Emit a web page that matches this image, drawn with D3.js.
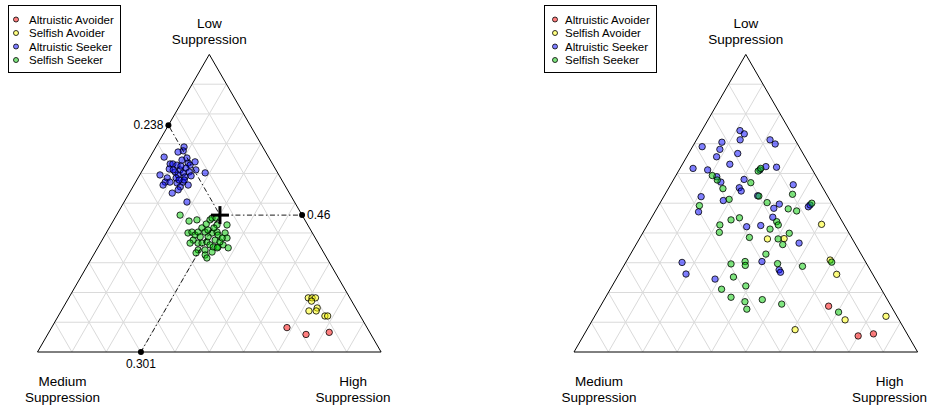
<!DOCTYPE html>
<html lang="en">
<head>
<meta charset="UTF-8">
<title>Ternary plots</title>
<style>
  body { margin: 0; background: #fff; }
  svg { display: block; font-family: "Liberation Sans", Arial, Helvetica, sans-serif; }
</style>
</head>
<body>
<script src="https://d3js.org/d3.v7.min.js"></script>
<script>
// legend groups and their fill colours (drawn half transparent)
let groupNames = ["Altruistic Avoider", "Selfish Avoider", "Altruistic Seeker", "Selfish Seeker"];
let groupFills = ["#ff0000", "#ffff00", "#0000ff", "#00cd00"];

// every point is [low, medium, high] suppression
let leftAltAvoider = [[0.082,0.233,0.685],[0.059,0.189,0.752],[0.066,0.118,0.816]];
let leftSelAvoider = [[0.182,0.121,0.697],[0.182,0.110,0.708],[0.182,0.100,0.718],[0.171,0.117,0.712],
  [0.138,0.141,0.721],[0.148,0.112,0.740],[0.138,0.120,0.742],[0.121,0.103,0.776],[0.121,0.095,0.784]];
let leftAltSeeker = [[0.689,0.229,0.082],[0.676,0.238,0.086],[0.672,0.255,0.073],[0.655,0.304,0.041],
  [0.632,0.298,0.070],[0.632,0.290,0.078],[0.628,0.280,0.092],[0.635,0.244,0.121],[0.628,0.242,0.130],
  [0.639,0.222,0.139],[0.612,0.233,0.155],[0.602,0.211,0.187],[0.595,0.346,0.059],[0.585,0.330,0.085],
  [0.571,0.343,0.086],[0.561,0.354,0.085],[0.568,0.310,0.122],[0.555,0.307,0.138],[0.545,0.318,0.137],
  [0.534,0.341,0.125],[0.571,0.291,0.138],[0.504,0.313,0.183],[0.615,0.309,0.076],[0.571,0.329,0.100],
  [0.612,0.279,0.109],[0.602,0.275,0.123],[0.618,0.259,0.123],[0.595,0.293,0.112],[0.588,0.277,0.135],
  [0.605,0.256,0.139],[0.625,0.270,0.105],[0.605,0.297,0.098],[0.578,0.284,0.138],[0.592,0.257,0.151],
  [0.585,0.304,0.111],[0.645,0.257,0.098],[0.652,0.239,0.109],[0.612,0.299,0.089],[0.578,0.299,0.123],
  [0.561,0.281,0.158]];
let leftSelSeeker = [[0.460,0.355,0.185],[0.440,0.339,0.221],[0.444,0.314,0.242],[0.444,0.276,0.280],
  [0.450,0.267,0.283],[0.450,0.255,0.295],[0.427,0.264,0.309],[0.427,0.235,0.338],[0.400,0.362,0.238],
  [0.403,0.349,0.248],[0.393,0.345,0.262],[0.403,0.331,0.266],[0.417,0.313,0.270],[0.403,0.311,0.286],
  [0.410,0.299,0.291],[0.400,0.292,0.308],[0.403,0.276,0.321],[0.393,0.278,0.329],[0.400,0.254,0.346],
  [0.383,0.257,0.360],[0.366,0.350,0.284],[0.366,0.338,0.296],[0.370,0.322,0.308],[0.360,0.318,0.322],
  [0.353,0.312,0.335],[0.353,0.298,0.349],[0.360,0.280,0.360],[0.350,0.270,0.380],[0.343,0.361,0.296],
  [0.343,0.341,0.316],[0.336,0.324,0.340],[0.350,0.302,0.348],[0.326,0.349,0.325],[0.316,0.349,0.335],
  [0.376,0.359,0.265],[0.366,0.373,0.261],[0.376,0.295,0.329],[0.370,0.284,0.346],[0.387,0.333,0.280],
  [0.387,0.310,0.303],[0.333,0.372,0.295],[0.383,0.271,0.346],[0.417,0.278,0.305],[0.430,0.294,0.276]];

let rightAltAvoider = [[0.154,0.182,0.664],[0.054,0.146,0.800],[0.061,0.098,0.841]];
let rightSelAvoider = [[0.429,0.065,0.506],[0.380,0.247,0.373],[0.381,0.198,0.421],[0.309,0.100,0.591],
  [0.261,0.105,0.634],[0.108,0.157,0.735],[0.120,0.032,0.848],[0.075,0.319,0.606]];
let rightAltSeeker = [[0.744,0.145,0.111],[0.733,0.138,0.129],[0.713,0.160,0.127],[0.690,0.282,0.028],
  [0.705,0.217,0.078],[0.681,0.235,0.084],[0.656,0.257,0.087],[0.667,0.190,0.143],[0.713,0.073,0.214],
  [0.699,0.065,0.236],[0.631,0.231,0.138],[0.617,0.345,0.038],[0.612,0.305,0.083],[0.589,0.290,0.121],
  [0.571,0.287,0.142],[0.580,0.215,0.205],[0.552,0.243,0.205],[0.541,0.243,0.216],[0.623,0.130,0.247],
  [0.621,0.100,0.279],[0.562,0.081,0.357],[0.525,0.203,0.272],[0.522,0.369,0.109],[0.509,0.311,0.180],
  [0.471,0.402,0.127],[0.497,0.154,0.349],[0.483,0.177,0.340],[0.488,0.074,0.438],[0.453,0.195,0.352],
  [0.421,0.287,0.292],[0.425,0.244,0.331],[0.366,0.162,0.472],[0.301,0.535,0.164],[0.262,0.543,0.195],
  [0.304,0.301,0.395],[0.276,0.265,0.459],[0.268,0.265,0.467],[0.245,0.467,0.288],[0.494,0.066,0.440],
  [0.612,0.153,0.235]];
let rightSelSeeker = [[0.593,0.301,0.106],[0.578,0.294,0.128],[0.549,0.292,0.159],[0.569,0.201,0.230],
  [0.608,0.160,0.232],[0.617,0.148,0.235],[0.513,0.292,0.195],[0.524,0.200,0.276],[0.502,0.187,0.311],
  [0.530,0.099,0.371],[0.492,0.389,0.119],[0.481,0.136,0.383],[0.474,0.115,0.411],[0.500,0.058,0.442],
  [0.444,0.321,0.235],[0.451,0.293,0.256],[0.427,0.362,0.211],[0.402,0.376,0.222],[0.438,0.191,0.371],
  [0.427,0.192,0.381],[0.413,0.223,0.364],[0.385,0.297,0.318],[0.380,0.216,0.404],[0.399,0.174,0.427],
  [0.361,0.212,0.427],[0.329,0.277,0.394],[0.296,0.395,0.309],[0.304,0.350,0.346],[0.291,0.356,0.353],
  [0.297,0.259,0.444],[0.288,0.191,0.521],[0.302,0.099,0.599],[0.252,0.410,0.338],[0.222,0.389,0.389],
  [0.211,0.465,0.324],[0.184,0.451,0.365],[0.169,0.418,0.413],[0.144,0.425,0.431],[0.176,0.364,0.460],
  [0.161,0.315,0.524],[0.134,0.163,0.703]];

// mean of the left panel and the labels written at the axes
let meanPoint = [0.46, 0.238, 0.301];
let meanLabels = ["0.46", "0.238", "0.301"];

let cornerLabels = [["Low", "Suppression"], ["Medium", "Suppression"], ["High", "Suppression"]];

let width = 933, height = 407;
let side = 343.6, tri = side * Math.sqrt(3) / 2, baseY = 352;

let svg = d3.select('body').append('svg')
  .attr('width', width)
  .attr('height', height);

function drawPanel(left, legend, groups, showMean) {
  let x = d3.scaleLinear().domain([0, 1]).range([left, left + side]);
  let y = d3.scaleLinear().domain([0, 1]).range([baseY, baseY - tri]);
  let px = d => x(d[2] + d[0] / 2);
  let py = d => y(d[0]);

  let g = svg.append('g');

  // grid lines every 0.1 in all three directions
  let lines = [];
  d3.range(1, 10).map(k => k / 10).forEach(t => {
    lines.push([[t, 1 - t, 0], [t, 0, 1 - t]]);
    lines.push([[0, 1 - t, t], [1 - t, 0, t]]);
    lines.push([[0, t, 1 - t], [1 - t, t, 0]]);
  });
  g.selectAll('line.grid')
    .data(lines)
    .enter()
    .append('line')
    .attr('class', 'grid')
    .attr('x1', d => px(d[0])).attr('y1', d => py(d[0]))
    .attr('x2', d => px(d[1])).attr('y2', d => py(d[1]))
    .attr('stroke', '#dadada')
    .attr('stroke-width', 1);

  // triangle outline
  let corners = [[1, 0, 0], [0, 1, 0], [0, 0, 1]];
  g.append('polygon')
    .attr('points', corners.map(c => px(c) + ',' + py(c)).join(' '))
    .attr('fill', 'none')
    .attr('stroke', '#000')
    .attr('stroke-width', 1);

  // points, one group after another
  groups.forEach((pts, i) => {
    g.selectAll(null)
      .data(pts)
      .enter()
      .append('circle')
      .attr('cx', px)
      .attr('cy', py)
      .attr('r', 3.2)
      .attr('fill', groupFills[i])
      .attr('fill-opacity', 0.5)
      .attr('stroke', '#000')
      .attr('stroke-width', 0.8);
  });

  if (showMean) {
    let m = meanPoint;
    // ends on the axes: same medium on left edge, same low on right edge, same high on the base
    let ends = [
      {p: [m[0], 0, 1 - m[0]], label: meanLabels[0], dx: 5, dy: 4, anchor: 'start'},
      {p: [1 - m[1], m[1], 0], label: meanLabels[1], dx: -5, dy: 4, anchor: 'end'},
      {p: [0, 1 - m[2], m[2]], label: meanLabels[2], dx: 0, dy: 16, anchor: 'middle'}
    ];
    g.selectAll('line.mean')
      .data(ends)
      .enter()
      .append('line')
      .attr('x1', px(m)).attr('y1', py(m))
      .attr('x2', d => px(d.p)).attr('y2', d => py(d.p))
      .attr('stroke', '#000')
      .attr('stroke-width', 0.9)
      .attr('stroke-dasharray', '1.5,2.5,5,2.5');
    g.selectAll('circle.end')
      .data(ends)
      .enter()
      .append('circle')
      .attr('cx', d => px(d.p))
      .attr('cy', d => py(d.p))
      .attr('r', 3)
      .attr('fill', '#000');
    g.selectAll('text.end')
      .data(ends)
      .enter()
      .append('text')
      .attr('x', d => px(d.p) + d.dx)
      .attr('y', d => py(d.p) + d.dy)
      .attr('text-anchor', d => d.anchor)
      .attr('font-size', '12px')
      .text(d => d.label);
    // cross at the mean
    g.append('line')
      .attr('x1', px(m) - 9).attr('x2', px(m) + 9)
      .attr('y1', py(m)).attr('y2', py(m))
      .attr('stroke', '#000').attr('stroke-width', 3);
    g.append('line')
      .attr('x1', px(m)).attr('x2', px(m))
      .attr('y1', py(m) - 9).attr('y2', py(m) + 9)
      .attr('stroke', '#000').attr('stroke-width', 3);
  }

  // corner labels
  let labelPos = [
    {x: px(corners[0]), y: 28},
    {x: px(corners[1]) + 25, y: 386},
    {x: px(corners[2]) - 28, y: 386}
  ];
  labelPos.forEach((lp, i) => {
    cornerLabels[i].forEach((s, j) => {
      g.append('text')
        .attr('x', lp.x)
        .attr('y', lp.y + j * 16)
        .attr('text-anchor', 'middle')
        .attr('font-size', '13.5px')
        .text(s);
    });
  });

  // legend
  let lg = svg.append('g');
  lg.append('rect')
    .attr('x', legend.x + 0.5).attr('y', 5.5)
    .attr('width', 112).attr('height', 67)
    .attr('fill', '#fff')
    .attr('stroke', '#000');
  groupNames.forEach((name, i) => {
    lg.append('circle')
      .attr('cx', legend.dot)
      .attr('cy', 19.5 + i * 13.5)
      .attr('r', 2.5)
      .attr('fill', groupFills[i])
      .attr('fill-opacity', 0.5)
      .attr('stroke', '#000')
      .attr('stroke-width', 0.8);
    lg.append('text')
      .attr('x', legend.text)
      .attr('y', 23.5 + i * 13.5)
      .attr('font-size', '11.5px')
      .text(name);
  });
}

drawPanel(37.5, {x: 8, dot: 16, text: 29}, [leftAltAvoider, leftSelAvoider, leftAltSeeker, leftSelSeeker], true);
drawPanel(574, {x: 544, dot: 555, text: 565}, [rightAltAvoider, rightSelAvoider, rightAltSeeker, rightSelSeeker], false);
</script>
</body>
</html>
